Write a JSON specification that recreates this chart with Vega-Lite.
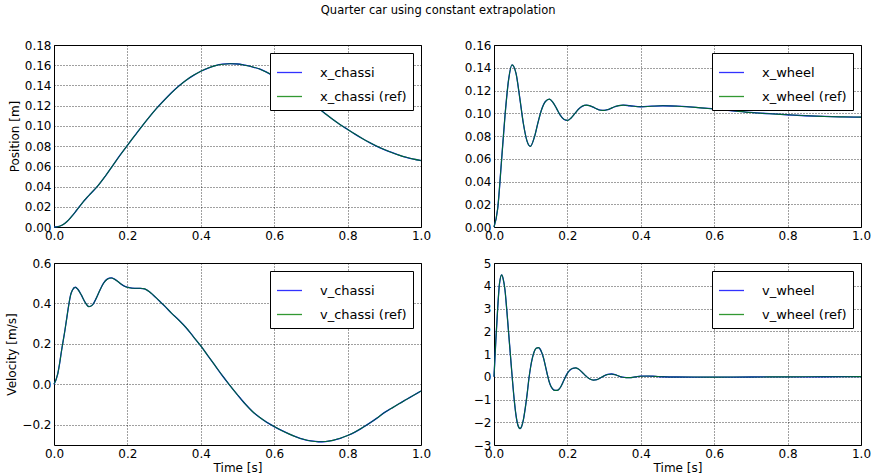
{
  "$schema": "https://vega.github.io/schema/vega-lite/v6.json",
  "background": "white",
  "padding": {"left": 5, "top": 5, "right": 5, "bottom": 5},
  "title": {"text": "Quarter car using constant extrapolation", "font": "DejaVu Sans", "fontSize": 11.5, "fontWeight": "normal", "color": "#000", "anchor": "middle", "offset": 22},
  "datasets": {
    "xc": [
      {"t":0,"v":0},{"t":0.01,"v":0.0003},{"t":0.02,"v":0.0015},{"t":0.03,"v":0.0037},{"t":0.04,"v":0.007},{"t":0.05,"v":0.0112},{"t":0.06,"v":0.0158},{"t":0.07,"v":0.0205},{"t":0.08,"v":0.0251},{"t":0.09,"v":0.0292},{"t":0.1,"v":0.0331},{"t":0.12,"v":0.0409},{"t":0.14,"v":0.0504},{"t":0.16,"v":0.0607},{"t":0.18,"v":0.071},{"t":0.2,"v":0.0808},{"t":0.22,"v":0.0903},{"t":0.24,"v":0.0998},{"t":0.26,"v":0.1089},{"t":0.28,"v":0.1175},{"t":0.3,"v":0.1253},{"t":0.32,"v":0.1327},{"t":0.34,"v":0.1394},{"t":0.36,"v":0.1452},{"t":0.38,"v":0.15},{"t":0.4,"v":0.154},{"t":0.42,"v":0.1572},{"t":0.44,"v":0.1596},{"t":0.46,"v":0.161},{"t":0.48,"v":0.1615},{"t":0.5,"v":0.1612},{"t":0.52,"v":0.16},{"t":0.54,"v":0.1584},{"t":0.56,"v":0.1563},{"t":0.58,"v":0.153},{"t":0.6,"v":0.1492},{"t":0.62,"v":0.1448},{"t":0.64,"v":0.14},{"t":0.66,"v":0.1347},{"t":0.68,"v":0.129},{"t":0.7,"v":0.1232},{"t":0.72,"v":0.1175},{"t":0.74,"v":0.1118},{"t":0.76,"v":0.1063},{"t":0.78,"v":0.1012},{"t":0.8,"v":0.0965},{"t":0.82,"v":0.0919},{"t":0.84,"v":0.0875},{"t":0.86,"v":0.0835},{"t":0.88,"v":0.0798},{"t":0.9,"v":0.0766},{"t":0.92,"v":0.0737},{"t":0.94,"v":0.0711},{"t":0.96,"v":0.0689},{"t":0.98,"v":0.0671},{"t":1.0,"v":0.0657}
    ],
    "xw": [
      {"t":0,"v":0},{"t":0.01,"v":0.016},{"t":0.02,"v":0.056},{"t":0.03,"v":0.098},{"t":0.04,"v":0.13},{"t":0.049,"v":0.1425},{"t":0.06,"v":0.135},{"t":0.07,"v":0.114},{"t":0.08,"v":0.091},{"t":0.09,"v":0.0755},{"t":0.099,"v":0.0709},{"t":0.11,"v":0.079},{"t":0.12,"v":0.092},{"t":0.13,"v":0.1035},{"t":0.14,"v":0.1103},{"t":0.151,"v":0.1124},{"t":0.16,"v":0.1098},{"t":0.17,"v":0.1045},{"t":0.18,"v":0.0985},{"t":0.19,"v":0.0948},{"t":0.2,"v":0.0937},{"t":0.21,"v":0.0958},{"t":0.22,"v":0.0996},{"t":0.23,"v":0.1035},{"t":0.24,"v":0.1061},{"t":0.252,"v":0.1071},{"t":0.26,"v":0.1067},{"t":0.27,"v":0.1054},{"t":0.28,"v":0.1038},{"t":0.29,"v":0.1027},{"t":0.3,"v":0.1025},{"t":0.31,"v":0.1032},{"t":0.32,"v":0.1045},{"t":0.33,"v":0.1059},{"t":0.34,"v":0.1067},{"t":0.352,"v":0.1071},{"t":0.37,"v":0.1066},{"t":0.4,"v":0.1057},{"t":0.43,"v":0.1062},{"t":0.46,"v":0.1066},{"t":0.5,"v":0.1062},{"t":0.55,"v":0.1052},{"t":0.6,"v":0.1037},{"t":0.65,"v":0.1022},{"t":0.7,"v":0.1007},{"t":0.75,"v":0.0996},{"t":0.8,"v":0.0987},{"t":0.85,"v":0.0978},{"t":0.9,"v":0.0972},{"t":0.95,"v":0.0968},{"t":1.0,"v":0.0966}
    ],
    "vc": [
      {"t":0,"v":0},{"t":0.01,"v":0.05},{"t":0.015,"v":0.1},{"t":0.02,"v":0.16},{"t":0.03,"v":0.27},{"t":0.035,"v":0.33},{"t":0.04,"v":0.39},{"t":0.045,"v":0.44},{"t":0.05,"v":0.465},{"t":0.058,"v":0.48},{"t":0.065,"v":0.47},{"t":0.075,"v":0.44},{"t":0.085,"v":0.405},{"t":0.095,"v":0.384},{"t":0.105,"v":0.393},{"t":0.115,"v":0.425},{"t":0.125,"v":0.465},{"t":0.135,"v":0.5},{"t":0.145,"v":0.52},{"t":0.156,"v":0.526},{"t":0.165,"v":0.52},{"t":0.175,"v":0.507},{"t":0.185,"v":0.493},{"t":0.195,"v":0.483},{"t":0.205,"v":0.478},{"t":0.22,"v":0.475},{"t":0.235,"v":0.475},{"t":0.247,"v":0.472},{"t":0.26,"v":0.458},{"t":0.27,"v":0.442},{"t":0.28,"v":0.425},{"t":0.29,"v":0.407},{"t":0.3,"v":0.39},{"t":0.32,"v":0.352},{"t":0.34,"v":0.318},{"t":0.36,"v":0.28},{"t":0.38,"v":0.235},{"t":0.4,"v":0.19},{"t":0.42,"v":0.14},{"t":0.44,"v":0.09},{"t":0.46,"v":0.04},{"t":0.477,"v":0},{"t":0.5,"v":-0.052},{"t":0.52,"v":-0.095},{"t":0.54,"v":-0.133},{"t":0.56,"v":-0.163},{"t":0.58,"v":-0.188},{"t":0.6,"v":-0.209},{"t":0.62,"v":-0.228},{"t":0.64,"v":-0.245},{"t":0.66,"v":-0.26},{"t":0.68,"v":-0.272},{"t":0.7,"v":-0.28},{"t":0.72,"v":-0.284},{"t":0.74,"v":-0.283},{"t":0.76,"v":-0.277},{"t":0.78,"v":-0.267},{"t":0.8,"v":-0.253},{"t":0.82,"v":-0.236},{"t":0.84,"v":-0.215},{"t":0.86,"v":-0.192},{"t":0.88,"v":-0.167},{"t":0.9,"v":-0.14},{"t":0.92,"v":-0.118},{"t":0.94,"v":-0.096},{"t":0.96,"v":-0.075},{"t":0.98,"v":-0.054},{"t":1.0,"v":-0.033}
    ],
    "vw": [
      {"t":0,"v":0},{"t":0.005,"v":1.6},{"t":0.01,"v":3.0},{"t":0.015,"v":4.1},{"t":0.021,"v":4.48},{"t":0.025,"v":4.3},{"t":0.03,"v":3.8},{"t":0.035,"v":2.9},{"t":0.04,"v":1.9},{"t":0.045,"v":0.9},{"t":0.05,"v":-0.1},{"t":0.055,"v":-1.0},{"t":0.06,"v":-1.7},{"t":0.065,"v":-2.12},{"t":0.071,"v":-2.28},{"t":0.075,"v":-2.2},{"t":0.08,"v":-1.9},{"t":0.085,"v":-1.4},{"t":0.09,"v":-0.8},{"t":0.095,"v":-0.1},{"t":0.1,"v":0.45},{"t":0.105,"v":0.85},{"t":0.11,"v":1.12},{"t":0.115,"v":1.25},{"t":0.121,"v":1.28},{"t":0.125,"v":1.23},{"t":0.13,"v":1.07},{"t":0.135,"v":0.82},{"t":0.14,"v":0.48},{"t":0.145,"v":0.12},{"t":0.15,"v":-0.2},{"t":0.155,"v":-0.42},{"t":0.16,"v":-0.54},{"t":0.166,"v":-0.6},{"t":0.172,"v":-0.6},{"t":0.177,"v":-0.55},{"t":0.182,"v":-0.44},{"t":0.187,"v":-0.28},{"t":0.192,"v":-0.1},{"t":0.197,"v":0.07},{"t":0.202,"v":0.2},{"t":0.208,"v":0.31},{"t":0.215,"v":0.37},{"t":0.222,"v":0.39},{"t":0.23,"v":0.34},{"t":0.24,"v":0.2},{"t":0.25,"v":0.04},{"t":0.26,"v":-0.09},{"t":0.271,"v":-0.15},{"t":0.28,"v":-0.13},{"t":0.29,"v":-0.05},{"t":0.3,"v":0.04},{"t":0.31,"v":0.1},{"t":0.32,"v":0.12},{"t":0.33,"v":0.09},{"t":0.34,"v":0.03},{"t":0.35,"v":-0.02},{"t":0.36,"v":-0.04},{"t":0.37,"v":-0.04},{"t":0.38,"v":-0.02},{"t":0.39,"v":0.01},{"t":0.4,"v":0.025},{"t":0.42,"v":0.03},{"t":0.44,"v":0.015},{"t":0.46,"v":0.0},{"t":0.5,"v":-0.01},{"t":0.6,"v":-0.015},{"t":0.7,"v":-0.01},{"t":0.8,"v":-0.005},{"t":0.9,"v":0.0},{"t":1.0,"v":0.005}
    ]
  },
  "config": {
    "font": "DejaVu Sans",
    "view": {"stroke": "#000", "strokeWidth": 1},
    "axis": {
      "domain": false,
      "ticks": false,
      "grid": true,
      "gridColor": "#000",
      "gridDash": [1, 2],
      "gridOpacity": 0.75,
      "gridWidth": 1,
      "labelFont": "DejaVu Sans",
      "labelFontSize": 12,
      "labelColor": "#000",
      "labelPadding": 3,
      "labelFlush": false,
      "labelOverlap": false,
      "labelBound": false,
      "titleFont": "DejaVu Sans",
      "titleFontSize": 12,
      "titleFontWeight": "normal",
      "titleColor": "#000",
      "titlePadding": 3
    },
    "legend": {
      "orient": "top-right",
      "offset": 8,
      "strokeColor": "#000",
      "fillColor": "#fff",
      "padding": 6,
      "cornerRadius": 0,
      "symbolType": "stroke",
      "symbolSize": 625,
      "symbolStrokeWidth": 1.3,
      "labelFont": "DejaVu Sans",
      "labelFontSize": 13,
      "labelColor": "#000",
      "labelOffset": 17,
      "rowPadding": 3,
      "title": null
    },
    "line": {"interpolate": "monotone"}
  },
  "bounds": "flush",
  "columns": 2,
  "spacing": {"row": 36, "column": 73},
  "resolve": {"scale": {"color": "independent"}, "legend": {"color": "independent"}},
  "concat": [
    {
      "width": 367, "height": 182,
      "data": {"name": "xc"},
      "encoding": {
        "x": {"field": "t", "type": "quantitative", "scale": {"domain": [0, 1], "nice": false}, "axis": {"title": null, "format": ".1f", "values": [0, 0.2, 0.4, 0.6, 0.8, 1.0]}},
        "y": {"field": "v", "type": "quantitative", "scale": {"domain": [0, 0.18], "nice": false, "zero": false}, "axis": {"title": "Position [m]", "format": ".2f", "values": [0, 0.02, 0.04, 0.06, 0.08, 0.1, 0.12, 0.14, 0.16, 0.18]}}
      },
      "layer": [
        {"mark": {"type": "line", "strokeWidth": 1.3}, "encoding": {
          "color": {"datum": "x_chassi", "type": "nominal", "scale": {"domain": ["x_chassi", "x_chassi (ref)"], "range": ["#0000ff", "#008000"]}}
        }},
        {"mark": {"type": "line", "strokeWidth": 1.1, "opacity": 0.8}, "encoding": {
          "color": {"datum": "x_chassi (ref)", "type": "nominal"}
        }}
      ]
    },
    {
      "width": 367, "height": 182,
      "data": {"name": "xw"},
      "encoding": {
        "x": {"field": "t", "type": "quantitative", "scale": {"domain": [0, 1], "nice": false}, "axis": {"title": null, "format": ".1f", "values": [0, 0.2, 0.4, 0.6, 0.8, 1.0]}},
        "y": {"field": "v", "type": "quantitative", "scale": {"domain": [0, 0.16], "nice": false, "zero": false}, "axis": {"title": null, "format": ".2f", "values": [0, 0.02, 0.04, 0.06, 0.08, 0.1, 0.12, 0.14, 0.16]}}
      },
      "layer": [
        {"mark": {"type": "line", "strokeWidth": 1.3}, "encoding": {
          "color": {"datum": "x_wheel", "type": "nominal", "scale": {"domain": ["x_wheel", "x_wheel (ref)"], "range": ["#0000ff", "#008000"]}}
        }},
        {"mark": {"type": "line", "strokeWidth": 1.1, "opacity": 0.8}, "encoding": {
          "color": {"datum": "x_wheel (ref)", "type": "nominal"}
        }}
      ]
    },
    {
      "width": 367, "height": 182,
      "data": {"name": "vc"},
      "encoding": {
        "x": {"field": "t", "type": "quantitative", "scale": {"domain": [0, 1], "nice": false}, "axis": {"title": "Time [s]", "format": ".1f", "values": [0, 0.2, 0.4, 0.6, 0.8, 1.0]}},
        "y": {"field": "v", "type": "quantitative", "scale": {"domain": [-0.3, 0.6], "nice": false, "zero": false}, "axis": {"title": "Velocity [m/s]", "format": ".1f", "values": [-0.2, 0, 0.2, 0.4, 0.6]}}
      },
      "layer": [
        {"mark": {"type": "line", "strokeWidth": 1.3}, "encoding": {
          "color": {"datum": "v_chassi", "type": "nominal", "scale": {"domain": ["v_chassi", "v_chassi (ref)"], "range": ["#0000ff", "#008000"]}}
        }},
        {"mark": {"type": "line", "strokeWidth": 1.1, "opacity": 0.8}, "encoding": {
          "color": {"datum": "v_chassi (ref)", "type": "nominal"}
        }}
      ]
    },
    {
      "width": 367, "height": 182,
      "data": {"name": "vw"},
      "encoding": {
        "x": {"field": "t", "type": "quantitative", "scale": {"domain": [0, 1], "nice": false}, "axis": {"title": "Time [s]", "format": ".1f", "values": [0, 0.2, 0.4, 0.6, 0.8, 1.0]}},
        "y": {"field": "v", "type": "quantitative", "scale": {"domain": [-3, 5], "nice": false, "zero": false}, "axis": {"title": null, "format": "d", "values": [-3, -2, -1, 0, 1, 2, 3, 4, 5]}}
      },
      "layer": [
        {"mark": {"type": "line", "strokeWidth": 1.3}, "encoding": {
          "color": {"datum": "v_wheel", "type": "nominal", "scale": {"domain": ["v_wheel", "v_wheel (ref)"], "range": ["#0000ff", "#008000"]}}
        }},
        {"mark": {"type": "line", "strokeWidth": 1.1, "opacity": 0.8}, "encoding": {
          "color": {"datum": "v_wheel (ref)", "type": "nominal"}
        }}
      ]
    }
  ]
}
